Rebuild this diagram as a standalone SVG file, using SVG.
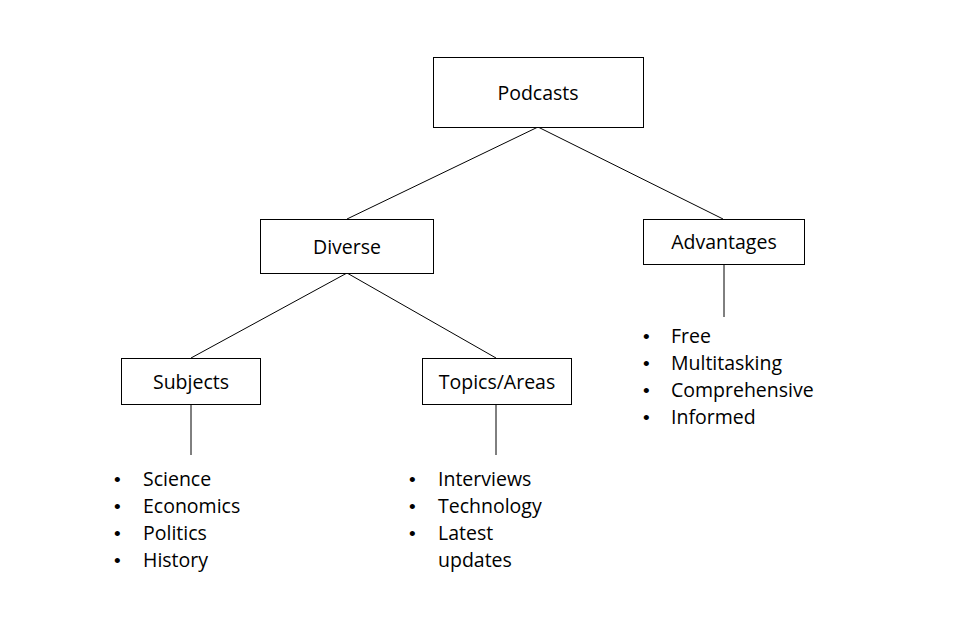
<svg xmlns="http://www.w3.org/2000/svg" width="973" height="634" viewBox="0 0 973 634">
<style>
.box{fill:#fff;stroke:#000;stroke-width:1}
.lbl{font-family:"Open Sans","Liberation Sans",Arial,sans-serif;font-size:19.5px;fill:#000;text-anchor:middle}
.li{font-family:"Open Sans","Liberation Sans",Arial,sans-serif;font-size:19.5px;fill:#000}
.bu{font-family:"Liberation Sans",Arial,sans-serif;font-size:19px;fill:#000}
.con{stroke:#000;stroke-width:1;fill:none}
</style>
<rect width="973" height="634" fill="#fff"/>
<g id="connectors">
<line class="con" x1="538" y1="127" x2="347" y2="219"/>
<line class="con" x1="538" y1="127" x2="723" y2="219"/>
<line class="con" x1="347" y1="273" x2="191" y2="358"/>
<line class="con" x1="347" y1="273" x2="496" y2="358"/>
<line class="con" x1="191" y1="404" x2="191" y2="455"/>
<line class="con" x1="496" y1="404" x2="496" y2="455"/>
<line class="con" x1="724" y1="264" x2="724" y2="317"/>
</g>
<g id="podcasts">
<rect class="box" x="433.5" y="57.5" width="210" height="70"/>
<text class="lbl" x="538" y="100">Podcasts</text>
</g>
<g id="diverse">
<rect class="box" x="260.5" y="219.5" width="173" height="54"/>
<text class="lbl" x="347" y="254">Diverse</text>
</g>
<g id="advantages">
<rect class="box" x="643.5" y="219.5" width="161" height="45"/>
<text class="lbl" x="724" y="249">Advantages</text>
</g>
<g id="subjects">
<rect class="box" x="121.5" y="358.5" width="139" height="46"/>
<text class="lbl" x="191" y="389">Subjects</text>
</g>
<g id="topics">
<rect class="box" x="422.5" y="358.5" width="149" height="46"/>
<text class="lbl" x="497" y="389">Topics/Areas</text>
</g>
<g id="subjects-list">
<text class="bu" x="114" y="486">•</text><text class="li" x="143" y="486">Science</text>
<text class="bu" x="114" y="513">•</text><text class="li" x="143" y="513">Economics</text>
<text class="bu" x="114" y="540">•</text><text class="li" x="143" y="540">Politics</text>
<text class="bu" x="114" y="567">•</text><text class="li" x="143" y="567">History</text>
</g>
<g id="topics-list">
<text class="bu" x="409" y="486">•</text><text class="li" x="438" y="486">Interviews</text>
<text class="bu" x="409" y="513">•</text><text class="li" x="438" y="513">Technology</text>
<text class="bu" x="409" y="540">•</text><text class="li" x="438" y="540">Latest</text>
<text class="li" x="438" y="567">updates</text>
</g>
<g id="advantages-list">
<text class="bu" x="643" y="343">•</text><text class="li" x="671" y="343">Free</text>
<text class="bu" x="643" y="370">•</text><text class="li" x="671" y="370">Multitasking</text>
<text class="bu" x="643" y="397">•</text><text class="li" x="671" y="397">Comprehensive</text>
<text class="bu" x="643" y="424">•</text><text class="li" x="671" y="424">Informed</text>
</g>
</svg>
